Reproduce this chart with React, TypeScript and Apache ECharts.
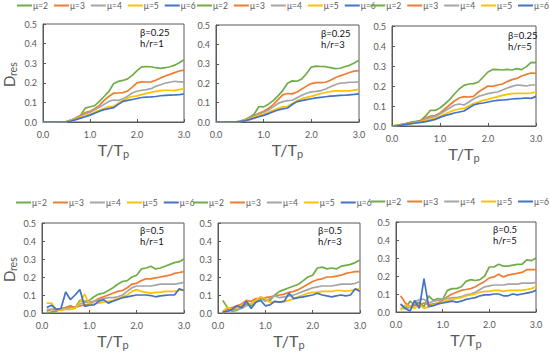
import React, { useEffect, useRef } from "react";
import * as echarts from "echarts";

// x positions (T/Tp)
const X_TOP = [0, 0.1, 0.2, 0.3, 0.4, 0.5, 0.6, 0.7, 0.8, 0.9, 1.0, 1.1, 1.2, 1.3, 1.4, 1.5, 1.6, 1.7, 1.8, 1.9, 2.0, 2.1, 2.2, 2.3, 2.4, 2.5, 2.6, 2.7, 2.8, 2.9, 3.0];
const X_BOT = [0.1, 0.2, 0.3, 0.4, 0.5, 0.6, 0.7, 0.8, 0.9, 1.0, 1.1, 1.2, 1.3, 1.4, 1.5, 1.6, 1.7, 1.8, 1.9, 2.0, 2.1, 2.2, 2.3, 2.4, 2.5, 2.6, 2.7, 2.8, 2.9, 3.0];

const MU_NAMES = ["μ=2", "μ=3", "μ=4", "μ=5", "μ=6"];
const MU_COLORS = ["#70AD47", "#ED7D31", "#A5A5A5", "#FFC000", "#4472C4"];

const X_TICKS = [0, 1, 2, 3];
const Y_TICKS = [0, 0.1, 0.2, 0.3, 0.4, 0.5];

// β=0.25, h/r=1
const A_MU2 = [0, 0, 0, 0, 0, 0.002, 0.01, 0.02, 0.035, 0.071, 0.078, 0.083, 0.105, 0.13, 0.155, 0.195, 0.207, 0.212, 0.22, 0.238, 0.262, 0.281, 0.283, 0.282, 0.277, 0.274, 0.277, 0.282, 0.29, 0.302, 0.318];
const A_MU3 = [0, 0, 0, 0, 0, 0.002, 0.01, 0.02, 0.033, 0.048, 0.055, 0.068, 0.085, 0.11, 0.13, 0.147, 0.148, 0.15, 0.158, 0.178, 0.2, 0.205, 0.204, 0.205, 0.213, 0.225, 0.235, 0.243, 0.252, 0.26, 0.265];
const A_MU4 = [0, 0, 0, 0, 0, 0.002, 0.01, 0.018, 0.03, 0.042, 0.05, 0.062, 0.075, 0.09, 0.105, 0.112, 0.11, 0.118, 0.132, 0.148, 0.157, 0.162, 0.165, 0.17, 0.182, 0.19, 0.198, 0.203, 0.208, 0.205, 0.205];
const A_MU5 = [0, 0, 0, 0, 0, 0.002, 0.008, 0.015, 0.025, 0.033, 0.04, 0.05, 0.06, 0.07, 0.078, 0.08, 0.095, 0.11, 0.123, 0.13, 0.133, 0.14, 0.146, 0.151, 0.156, 0.16, 0.162, 0.162, 0.16, 0.165, 0.17];
const A_MU6 = [0, 0, 0, 0, 0, 0.001, 0.005, 0.012, 0.02, 0.027, 0.035, 0.045, 0.055, 0.063, 0.068, 0.073, 0.09, 0.105, 0.11, 0.115, 0.12, 0.125, 0.127, 0.128, 0.13, 0.134, 0.136, 0.137, 0.138, 0.14, 0.143];

// β=0.25, h/r=3
const B_MU2 = [0, 0, 0, 0, 0, 0.003, 0.012, 0.025, 0.04, 0.08, 0.078, 0.092, 0.11, 0.135, 0.162, 0.2, 0.212, 0.21, 0.222, 0.25, 0.283, 0.288, 0.286, 0.285, 0.28, 0.275, 0.277, 0.285, 0.292, 0.304, 0.318];
const B_MU3 = [0, 0, 0, 0, 0, 0.003, 0.01, 0.02, 0.032, 0.045, 0.055, 0.07, 0.09, 0.115, 0.14, 0.147, 0.145, 0.155, 0.17, 0.185, 0.198, 0.203, 0.203, 0.205, 0.215, 0.228, 0.238, 0.246, 0.255, 0.262, 0.265];
const B_MU4 = [0, 0, 0, 0, 0, 0.003, 0.01, 0.018, 0.03, 0.04, 0.05, 0.062, 0.078, 0.095, 0.105, 0.11, 0.112, 0.125, 0.138, 0.148, 0.155, 0.158, 0.162, 0.17, 0.182, 0.192, 0.2, 0.202, 0.205, 0.205, 0.207];
const B_MU5 = [0, 0, 0, 0, 0, 0.002, 0.008, 0.015, 0.025, 0.033, 0.04, 0.05, 0.06, 0.07, 0.078, 0.08, 0.095, 0.11, 0.12, 0.127, 0.132, 0.14, 0.147, 0.152, 0.157, 0.16, 0.161, 0.16, 0.16, 0.164, 0.168];
const B_MU6 = [0, 0, 0, 0, 0, 0.002, 0.006, 0.012, 0.02, 0.027, 0.034, 0.043, 0.053, 0.062, 0.068, 0.072, 0.09, 0.105, 0.11, 0.115, 0.12, 0.124, 0.127, 0.13, 0.133, 0.135, 0.137, 0.138, 0.14, 0.142, 0.145];

// β=0.25, h/r=5
const C_MU2 = [0, 0.003, 0.008, 0.013, 0.02, 0.023, 0.028, 0.05, 0.078, 0.078, 0.09, 0.11, 0.132, 0.16, 0.185, 0.203, 0.21, 0.212, 0.22, 0.245, 0.27, 0.283, 0.282, 0.28, 0.283, 0.28, 0.287, 0.282, 0.297, 0.318, 0.317];
const C_MU3 = [0, 0.003, 0.007, 0.012, 0.017, 0.02, 0.025, 0.04, 0.05, 0.052, 0.065, 0.085, 0.105, 0.125, 0.14, 0.147, 0.145, 0.148, 0.17, 0.185, 0.2, 0.198, 0.205, 0.21, 0.222, 0.232, 0.238, 0.25, 0.258, 0.265, 0.263];
const C_MU4 = [0, 0.003, 0.006, 0.01, 0.015, 0.018, 0.022, 0.035, 0.042, 0.048, 0.06, 0.075, 0.09, 0.105, 0.11, 0.105, 0.12, 0.135, 0.148, 0.155, 0.162, 0.167, 0.17, 0.18, 0.19, 0.198, 0.205, 0.203, 0.2, 0.205, 0.205];
const C_MU5 = [0, 0.002, 0.005, 0.009, 0.013, 0.016, 0.02, 0.028, 0.033, 0.038, 0.048, 0.06, 0.07, 0.08, 0.085, 0.088, 0.1, 0.112, 0.12, 0.128, 0.133, 0.14, 0.147, 0.153, 0.158, 0.162, 0.163, 0.163, 0.163, 0.165, 0.17];
const C_MU6 = [0, 0.001, 0.004, 0.008, 0.012, 0.015, 0.018, 0.022, 0.027, 0.033, 0.043, 0.052, 0.058, 0.065, 0.07, 0.075, 0.09, 0.105, 0.112, 0.115, 0.12, 0.125, 0.128, 0.13, 0.132, 0.135, 0.137, 0.138, 0.14, 0.138, 0.148];

// β=0.5, h/r=1
const D_MU2 = [0, 0.005, 0.01, 0.02, 0.03, 0.04, 0.03, 0.07, 0.065, 0.07, 0.09, 0.105, 0.11, 0.125, 0.14, 0.16, 0.175, 0.18, 0.2, 0.21, 0.245, 0.25, 0.26, 0.245, 0.25, 0.26, 0.27, 0.28, 0.285, 0.3];
const D_MU3 = [0.01, 0.02, 0.02, 0.025, 0.03, 0.035, 0.03, 0.04, 0.045, 0.05, 0.065, 0.08, 0.09, 0.1, 0.11, 0.12, 0.125, 0.14, 0.16, 0.165, 0.18, 0.19, 0.19, 0.195, 0.2, 0.205, 0.21, 0.22, 0.225, 0.23];
const D_MU4 = [0.02, 0.02, 0.015, 0.02, 0.025, 0.03, 0.03, 0.05, 0.06, 0.06, 0.065, 0.07, 0.08, 0.085, 0.085, 0.09, 0.1, 0.12, 0.14, 0.15, 0.15, 0.15, 0.15, 0.155, 0.16, 0.16, 0.16, 0.16, 0.165, 0.17];
const D_MU5 = [0.055, 0.055, 0.02, 0.015, 0.02, 0.02, 0.025, 0.06, 0.105, 0.05, 0.05, 0.055, 0.06, 0.065, 0.07, 0.08, 0.09, 0.1, 0.12, 0.13, 0.12, 0.115, 0.11, 0.115, 0.115, 0.12, 0.12, 0.12, 0.125, 0.13];
const D_MU6 = [0.03, 0.043, 0.02, 0.025, 0.117, 0.074, 0.1, 0.13, 0.037, 0.043, 0.045, 0.065, 0.074, 0.055, 0.065, 0.075, 0.085, 0.09, 0.095, 0.1, 0.1, 0.1, 0.097, 0.09, 0.095, 0.098, 0.1, 0.1, 0.135, 0.125];

// β=0.5, h/r=3
const E_MU2 = [0.07, 0.03, 0.01, 0.015, 0.03, 0.05, 0.04, 0.06, 0.085, 0.07, 0.07, 0.1, 0.12, 0.13, 0.14, 0.15, 0.16, 0.18, 0.2, 0.21, 0.25, 0.255, 0.245, 0.25, 0.245, 0.26, 0.265, 0.27, 0.28, 0.295];
const E_MU3 = [0.005, 0.02, 0.03, 0.04, 0.05, 0.07, 0.065, 0.08, 0.08, 0.085, 0.09, 0.095, 0.1, 0.105, 0.115, 0.12, 0.13, 0.145, 0.16, 0.175, 0.185, 0.19, 0.2, 0.2, 0.205, 0.21, 0.22, 0.225, 0.23, 0.23];
const E_MU4 = [0, 0.01, 0.015, 0.02, 0.025, 0.04, 0.05, 0.07, 0.08, 0.065, 0.08, 0.095, 0.085, 0.09, 0.095, 0.1, 0.11, 0.12, 0.13, 0.14, 0.145, 0.15, 0.15, 0.15, 0.155, 0.16, 0.16, 0.16, 0.165, 0.175];
const E_MU5 = [0.01, 0.03, 0.02, 0.03, 0.04, 0.06, 0.05, 0.07, 0.09, 0.08, 0.06, 0.06, 0.06, 0.065, 0.07, 0.08, 0.09, 0.1, 0.11, 0.115, 0.115, 0.12, 0.12, 0.12, 0.125, 0.125, 0.12, 0.125, 0.13, 0.135];
const E_MU6 = [0.005, 0.01, 0.02, 0.04, 0.03, 0.065, 0.025, 0.06, 0.07, 0.04, 0.045, 0.065, 0.06, 0.065, 0.11, 0.08, 0.085, 0.09, 0.095, 0.1, 0.11, 0.1, 0.095, 0.09, 0.095, 0.1, 0.095, 0.1, 0.135, 0.12];

// β=0.5, h/r=5
const F_MU2 = [0.02, 0.02, 0.06, 0.04, 0.055, 0.03, 0.09, 0.065, 0.075, 0.07, 0.12, 0.13, 0.13, 0.14, 0.17, 0.18, 0.175, 0.18, 0.2, 0.25, 0.25, 0.265, 0.255, 0.255, 0.26, 0.265, 0.265, 0.29, 0.285, 0.3];
const F_MU3 = [0.09, 0.05, 0.03, 0.035, 0.04, 0.05, 0.04, 0.045, 0.05, 0.065, 0.085, 0.1, 0.11, 0.12, 0.125, 0.13, 0.14, 0.155, 0.17, 0.19, 0.195, 0.21, 0.195, 0.205, 0.21, 0.215, 0.22, 0.235, 0.235, 0.235];
const F_MU4 = [0.04, 0.02, 0.025, 0.055, 0.07, 0.07, 0.05, 0.06, 0.065, 0.07, 0.075, 0.08, 0.08, 0.085, 0.095, 0.1, 0.11, 0.125, 0.14, 0.145, 0.15, 0.15, 0.15, 0.155, 0.155, 0.155, 0.16, 0.16, 0.16, 0.165];
const F_MU5 = [0.01, 0.04, 0.03, 0.02, 0.04, 0.02, 0.03, 0.04, 0.045, 0.055, 0.065, 0.07, 0.075, 0.08, 0.09, 0.095, 0.1, 0.11, 0.115, 0.115, 0.12, 0.12, 0.115, 0.12, 0.12, 0.12, 0.12, 0.125, 0.13, 0.14];
const F_MU6 = [0.045, 0.02, 0.005, 0.065, 0.02, 0.185, 0.03, 0.035, 0.045, 0.05, 0.055, 0.06, 0.055, 0.06, 0.07, 0.075, 0.08, 0.09, 0.095, 0.095, 0.1, 0.1, 0.09, 0.09, 0.1, 0.095, 0.1, 0.105, 0.11, 0.12];

const PANEL_BETA = ["β=0.25", "β=0.25", "β=0.25", "β=0.5", "β=0.5", "β=0.5"];
const PANEL_HR = ["h/r=1", "h/r=3", "h/r=5", "h/r=1", "h/r=3", "h/r=5"];
const Y_TITLE_MAIN = "D";
const Y_TITLE_SUB = "res";

const PANEL_SERIES = [
  [A_MU2, A_MU3, A_MU4, A_MU5, A_MU6],
  [B_MU2, B_MU3, B_MU4, B_MU5, B_MU6],
  [C_MU2, C_MU3, C_MU4, C_MU5, C_MU6],
  [D_MU2, D_MU3, D_MU4, D_MU5, D_MU6],
  [E_MU2, E_MU3, E_MU4, E_MU5, E_MU6],
  [F_MU2, F_MU3, F_MU4, F_MU5, F_MU6],
];
const PANEL_X = [X_TOP, X_TOP, X_TOP, X_BOT, X_BOT, X_BOT];

// layout (pixels)
const GRIDS = [
  { left: 43, top: 24, width: 141, height: 98 },
  { left: 216, top: 25, width: 143, height: 97 },
  { left: 392, top: 26, width: 144, height: 100 },
  { left: 42, top: 223, width: 142, height: 90 },
  { left: 218, top: 223, width: 142, height: 90 },
  { left: 396, top: 222, width: 140, height: 90 },
];
const LEGEND_POS: any[] = [
  { left: 17, top: 1 },
  { left: 197, top: 1 },
  { right: 1, top: 1 },
  { left: 16, top: 198 },
  { left: 193, top: 198 },
  { right: 1, top: 197 },
];
const NOTE_POS = [
  { x: 140, y: 32 },
  { x: 321, y: 33 },
  { x: 508, y: 35 },
  { x: 140, y: 230 },
  { x: 318, y: 230 },
  { x: 493, y: 229 },
];
// y-title anchor points (start of text, reading upward)
const YTITLE_POS = [
  { x: 9, y: 87 },
  { x: 9, y: 282 },
];

const FONT = "Lato, 'Open Sans', sans-serif";
const AXIS_GRAY = "#595959";

export default function App() {
  const ref = useRef<HTMLDivElement>(null);

  useEffect(() => {
    if (!ref.current) return;
    const chart = echarts.init(ref.current, undefined, { renderer: "svg" });

    const grid = GRIDS.map((g) => ({
      ...g,
      show: true,
      borderColor: AXIS_GRAY,
      borderWidth: 1,
      backgroundColor: "transparent",
      containLabel: false,
      outerBoundsMode: "none",
    }));

    const xRich = {
      a: { fontSize: 16, color: AXIS_GRAY, fontFamily: FONT },
      b: { fontSize: 11, color: AXIS_GRAY, fontFamily: FONT, padding: [9, 0, 0, 0] },
    };

    const xAxis = GRIDS.map((_, i) => ({
      gridIndex: i,
      type: "value",
      min: X_TICKS[0],
      max: X_TICKS[X_TICKS.length - 1],
      interval: 1,
      axisLine: { show: true, lineStyle: { color: AXIS_GRAY, width: 1 } },
      axisTick: { show: true, inside: true, length: 3, lineStyle: { color: AXIS_GRAY } },
      axisLabel: {
        color: AXIS_GRAY,
        fontSize: 9,
        fontFamily: FONT,
        margin: 8,
        formatter: (v: number) => v.toFixed(1),
      },
      splitLine: { show: false },
      name: "{a|T/T}{b|p}",
      nameLocation: "middle",
      nameGap: 17,
      nameTextStyle: { rich: xRich },
    }));

    const yAxis = GRIDS.map((_, i) => ({
      gridIndex: i,
      type: "value",
      min: Y_TICKS[0],
      max: Y_TICKS[Y_TICKS.length - 1],
      interval: 0.1,
      axisLine: { show: true, lineStyle: { color: AXIS_GRAY, width: 1 } },
      axisTick: { show: true, inside: true, length: 3, lineStyle: { color: AXIS_GRAY } },
      axisLabel: {
        color: AXIS_GRAY,
        fontSize: 9,
        fontFamily: FONT,
        margin: 6,
        formatter: (v: number) => v.toFixed(1),
      },
      splitLine: { show: false },
    }));

    const series: any[] = [];
    PANEL_SERIES.forEach((lines, p) => {
      lines.forEach((vals, k) => {
        series.push({
          type: "line",
          name: MU_NAMES[k],
          xAxisIndex: p,
          yAxisIndex: p,
          data: PANEL_X[p].map((x, j) => [x, vals[j]]),
          symbol: "none",
          lineStyle: { color: MU_COLORS[k], width: 1.7 },
          itemStyle: { color: MU_COLORS[k] },
          z: 2 + k,
        });
      });
    });

    const legend = LEGEND_POS.map((pos) => ({
      ...pos,
      orient: "horizontal",
      icon: "rect",
      itemWidth: 15,
      itemHeight: 2,
      itemGap: 6,
      padding: 0,
      selectedMode: false,
      textStyle: { fontSize: 8.5, color: AXIS_GRAY, fontFamily: FONT, padding: [0, 0, 0, -4] },
      data: MU_NAMES,
    }));

    const graphic: any[] = [];
    NOTE_POS.forEach((pos, i) => {
      graphic.push({
        type: "text",
        left: pos.x,
        top: pos.y - 5,
        style: { text: PANEL_BETA[i], fill: "#111", font: `9.5px ${FONT}` },
      });
      graphic.push({
        type: "text",
        left: pos.x,
        top: pos.y + 6,
        style: { text: PANEL_HR[i], fill: "#111", font: `9.5px ${FONT}` },
      });
    });
    YTITLE_POS.forEach((pos) => {
      graphic.push({
        type: "text",
        x: pos.x,
        y: pos.y,
        rotation: Math.PI / 2,
        style: {
          text: Y_TITLE_MAIN,
          fill: AXIS_GRAY,
          font: `15px ${FONT}`,
          align: "left",
          verticalAlign: "middle",
        },
      });
      graphic.push({
        type: "text",
        x: pos.x + 3.5,
        y: pos.y - 11,
        rotation: Math.PI / 2,
        style: {
          text: Y_TITLE_SUB,
          fill: AXIS_GRAY,
          font: `10.5px ${FONT}`,
          align: "left",
          verticalAlign: "middle",
        },
      });
    });

    chart.setOption({
      animation: false,
      backgroundColor: "#ffffff",
      textStyle: { fontFamily: FONT },
      grid,
      xAxis,
      yAxis,
      legend,
      series,
      graphic,
    });

    return () => chart.dispose();
  }, []);

  return (
    <div
      ref={ref}
      style={{ position: "absolute", left: 0, top: 0, width: 550, height: 359 }}
    />
  );
}
